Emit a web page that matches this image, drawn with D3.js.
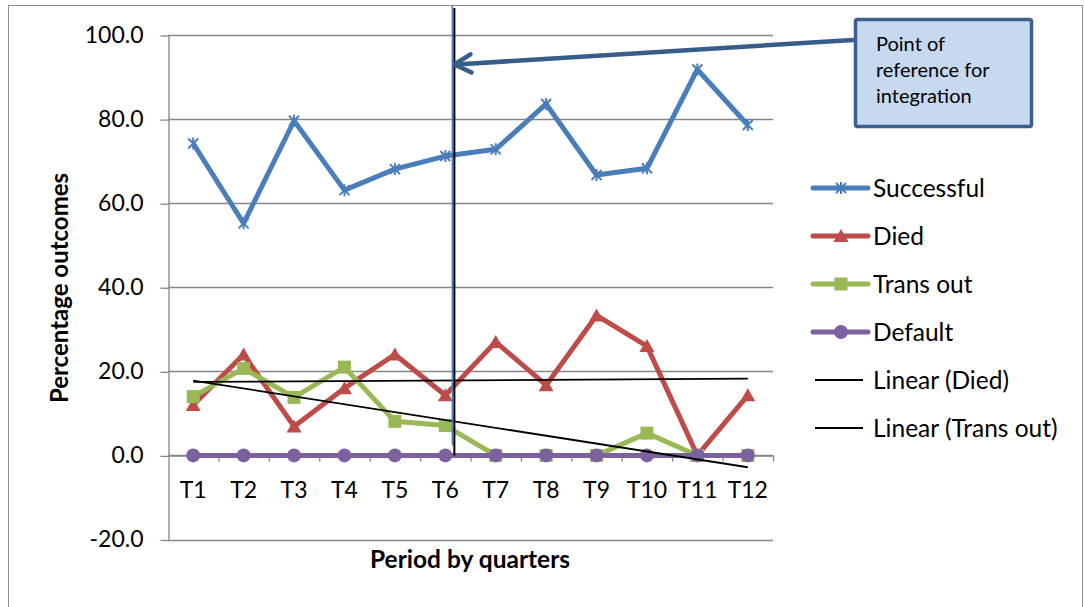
<!DOCTYPE html>
<html>
<head>
<meta charset="utf-8">
<script src="https://cdn.jsdelivr.net/npm/d3@7"></script>
<style>
  body { margin: 0; background: #fff; }
  svg { display: block; }
  text { font-family: Lato, "Open Sans", sans-serif; fill: #000; }
</style>
</head>
<body>
<svg id="chart" width="1084" height="607"></svg>
<script>
// Quarterly treatment outcomes (%)
const periods = ["T1", "T2", "T3", "T4", "T5", "T6", "T7", "T8", "T9", "T10", "T11", "T12"];
const successful = [74.2, 55.2, 79.6, 63.1, 68.1, 71.2, 72.8, 83.6, 66.7, 68.3, 91.8, 78.6];
const died       = [12.0, 24.0, 6.9, 16.0, 24.0, 14.3, 27.0, 16.7, 33.3, 26.0, 0.0, 14.3];
const transOut   = [14.0, 20.7, 13.8, 21.0, 8.1, 7.1, 0.0, 0.0, 0.0, 5.3, 0.0, 0.0];
const defaulted  = [0, 0, 0, 0, 0, 0, 0, 0, 0, 0, 0, 0];
const yTicks = [-20, 0, 20, 40, 60, 80, 100];
const seriesNames = ["Successful", "Died", "Trans out", "Default"];
const trendNames = ["Linear (Died)", "Linear (Trans out)"];
const calloutLines = ["Point of", "reference for", "integration"];
const xTitle = "Period by quarters";
const yTitle = "Percentage outcomes";
// integration point (position along the period axis) and arrow target value
const integrationAt = 6.18;
const arrowValue = 93;

(function () {
const svg = d3.select("#chart");
const W = 1084, H = 607;
const plotLeft = 168, plotRight = 773, plotTop = 35, plotBottom = 539.5;
const gridColor = "#868686";

// outer chart frame
svg.append("rect").attr("x", 8.5).attr("y", 5.5).attr("width", W - 10).attr("height", H)
  .attr("fill", "#fff").attr("stroke", "#8c8c8c").attr("stroke-width", 1);

const x = d3.scaleLinear().domain([0.5, periods.length + 0.5]).range([plotLeft, plotRight]);
const y = d3.scaleLinear().domain([-20, 100]).range([plotBottom, plotTop]);
const pos = i => x(i + 1);

// gridlines
svg.append("g").selectAll("line").data(yTicks).join("line")
  .attr("x1", plotLeft).attr("x2", plotRight)
  .attr("y1", d => Math.round(y(d)) + 0.5).attr("y2", d => Math.round(y(d)) + 0.5)
  .attr("stroke", gridColor).attr("stroke-width", 1.3);

// y axis
const yAxis = svg.append("g").attr("transform", `translate(${plotLeft + 0.5},0)`)
  .call(d3.axisLeft(y).tickValues(yTicks).tickSize(8).tickSizeOuter(0).tickPadding(17)
    .tickFormat(d => d.toFixed(1)));
yAxis.select(".domain").attr("stroke", gridColor).attr("stroke-width", 1.3);
yAxis.selectAll(".tick line").attr("stroke", gridColor).attr("stroke-width", 1.3)
  .attr("transform", "translate(0,0.5)");
yAxis.selectAll(".tick text").style("font-family", "Lato, sans-serif").style("font-size", "23px")
  .attr("fill", "#000");

// x axis at zero, tick marks between periods
const y0 = Math.round(y(0)) + 0.5;
const boundaries = d3.range(1, periods.length + 1).map(k => k + 0.5);
const xAxis = svg.append("g").attr("transform", `translate(0,${y0})`)
  .call(d3.axisBottom(x).tickValues(boundaries).tickSize(6).tickSizeOuter(0).tickFormat(""));
xAxis.select(".domain").attr("stroke", gridColor).attr("stroke-width", 1.3);
xAxis.selectAll(".tick line").attr("stroke", gridColor).attr("stroke-width", 1.3);

svg.append("g").selectAll("text").data(periods).join("text")
  .attr("x", (d, i) => pos(i)).attr("y", y0 + 42)
  .attr("text-anchor", "middle").style("font-size", "23px").text(d => d);

// axis titles
svg.append("text").attr("x", 470).attr("y", 568).attr("text-anchor", "middle")
  .style("font-size", "24.5px").style("font-weight", "bold").text(xTitle);
svg.append("text").attr("transform", "translate(68,288) rotate(-90)").attr("text-anchor", "middle")
  .style("font-size", "24px").style("font-weight", "bold").text(yTitle);

// series
const series = [
  { name: seriesNames[0], values: successful, color: "#4a7ebb", marker: "star" },
  { name: seriesNames[1], values: died, color: "#be4b48", marker: "triangle" },
  { name: seriesNames[2], values: transOut, color: "#98b954", marker: "square" },
  { name: seriesNames[3], values: defaulted, color: "#7d60a0", marker: "circle" }
];

function drawMarker(g, type, color) {
  if (type === "star") {
    g.append("path").attr("d", "M-5,-5L5,5M-5,5L5,-5M0,-6L0,6")
      .attr("stroke", color).attr("stroke-width", 2).attr("fill", "none");
  } else if (type === "triangle") {
    g.append("path").attr("d", "M0,-7L7.5,6L-7.5,6Z").attr("fill", color);
  } else if (type === "square") {
    g.append("rect").attr("x", -6.5).attr("y", -6.5).attr("width", 13).attr("height", 13).attr("fill", color);
  } else if (type === "circle") {
    g.append("circle").attr("r", 7).attr("fill", color);
  }
}

const line = d3.line().x((d, i) => pos(i)).y(d => y(d));
series.forEach(s => {
  const g = svg.append("g");
  g.append("path").datum(s.values).attr("d", line)
    .attr("fill", "none").attr("stroke", s.color).attr("stroke-width", 5)
    .attr("stroke-linejoin", "round");
  s.values.forEach((v, i) => {
    drawMarker(g.append("g").attr("transform", `translate(${pos(i)},${y(v)})`), s.marker, s.color);
  });
});

// least-squares trendlines
function linearFit(vals) {
  const xs = vals.map((_, i) => i + 1);
  const mx = d3.mean(xs), my = d3.mean(vals);
  const sxy = d3.sum(xs, (xi, i) => (xi - mx) * (vals[i] - my));
  const sxx = d3.sum(xs, xi => (xi - mx) * (xi - mx));
  const b = sxy / sxx;
  return xi => my + b * (xi - mx);
}
[died, transOut].forEach(vals => {
  const f = linearFit(vals);
  svg.append("line")
    .attr("x1", x(1)).attr("y1", y(f(1)))
    .attr("x2", x(periods.length)).attr("y2", y(f(periods.length)))
    .attr("stroke", "#000").attr("stroke-width", 1.8);
});

// legend
const legend = svg.append("g").attr("transform", "translate(813,188)");
const legendItems = series.map(s => ({ name: s.name, color: s.color, marker: s.marker, width: 5 }))
  .concat(trendNames.map(n => ({ name: n, color: "#000", marker: null, width: 1.8 })));
legendItems.forEach((d, i) => {
  const g = legend.append("g").attr("transform", `translate(0,${i * 48})`);
  g.append("line").attr("x1", d.marker ? 0 : 2).attr("x2", d.marker ? 55 : 50)
    .attr("stroke", d.color).attr("stroke-width", d.width).attr("stroke-linecap", d.marker ? "round" : "butt");
  if (d.marker) drawMarker(g.append("g").attr("transform", "translate(28,0)"), d.marker, d.color);
  g.append("text").attr("x", 60).attr("y", 0).attr("dy", "0.35em")
    .style("font-size", "24.5px").text(d.name);
});

// integration reference line
const refX = x(integrationAt);
svg.append("line").attr("x1", refX - 2).attr("x2", refX - 2).attr("y1", 5).attr("y2", y(0) - 10)
  .attr("stroke", "#4a7ebb").attr("stroke-width", 1.5);
svg.append("line").attr("x1", refX).attr("x2", refX).attr("y1", 8).attr("y2", y(0))
  .attr("stroke", "#000").attr("stroke-width", 2);

// callout arrow
const tip = [refX, y(arrowValue)];
const tail = [853, 40];
const arrowColor = "#385d8a";
svg.append("line").attr("x1", tail[0]).attr("y1", tail[1]).attr("x2", tip[0] + 2).attr("y2", tip[1])
  .attr("stroke", arrowColor).attr("stroke-width", 4.5).attr("stroke-linecap", "round");
const ang = Math.atan2(tail[1] - tip[1], tail[0] - tip[0]);
const headLen = 19, spread = 0.5;
const arm = s => [tip[0] + headLen * Math.cos(ang + s), tip[1] + headLen * Math.sin(ang + s)];
svg.append("path")
  .attr("d", d3.line()([arm(-spread), tip, arm(spread)]))
  .attr("fill", "none").attr("stroke", arrowColor).attr("stroke-width", 4.5)
  .attr("stroke-linecap", "round").attr("stroke-linejoin", "round");

// callout box
svg.append("rect").attr("x", 855.5).attr("y", 19.5).attr("width", 176).attr("height", 107).attr("rx", 2)
  .attr("fill", "#c6d9f1").attr("stroke", "#3b5e8c").attr("stroke-width", 3.5);
svg.append("g").selectAll("text").data(calloutLines).join("text")
  .attr("x", 876).attr("y", (d, i) => 51 + i * 26)
  .style("font-size", "20px").text(d => d);
})();
</script>
</body>
</html>
